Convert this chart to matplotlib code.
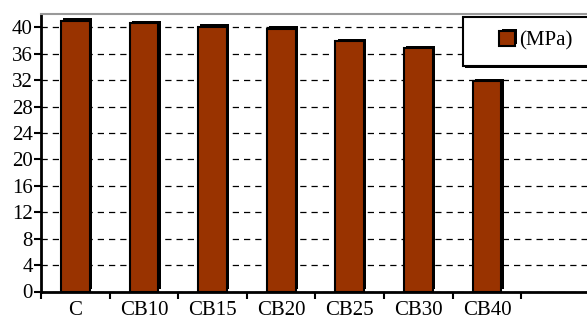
"""
Compressive strength of the concrete mixes as a bar chart with drop shadows.
"""

import matplotlib
matplotlib.use("Agg")
import matplotlib.pyplot as plt
import matplotlib.patheffects as pe
from matplotlib.patches import Rectangle

mixes = ["C", "CB10", "CB15", "CB20", "CB25", "CB30", "CB40"]
strength = [41.0, 40.6, 40.1, 39.8, 37.9, 36.8, 31.9]
y_ticks = [0, 4, 8, 12, 16, 20, 24, 28, 32, 36, 40]
legend_label = "(MPa)"

BAR_COLOR = "#993300"

plt.rcParams["font.family"] = ["Liberation Serif", "DejaVu Serif"]

fig = plt.figure(figsize=(5.87, 3.22), dpi=100)
ax = fig.add_axes([41 / 587, 30.5 / 322, 549 / 587, 277.5 / 322])

shadow = [pe.SimplePatchShadow(offset=(1.6, 1.6), shadow_rgbFace="black", alpha=1.0),
          pe.Normal()]
positions = list(range(len(mixes)))
bars = ax.bar(positions, strength, width=0.42, color=BAR_COLOR,
              edgecolor="black", linewidth=1.5, zorder=3, label=legend_label)
for bar in bars:
    bar.set_path_effects(shadow)

# one empty slot on the right, like the original sheet
ax.set_xlim(-0.5, len(mixes) + 0.5)
ax.set_ylim(0, 42)

ax.set_yticks(y_ticks)
ax.set_yticklabels([str(v) for v in y_ticks], fontsize=15)
ax.set_xticks(positions)
ax.set_xticklabels(mixes, fontsize=15)
ax.set_xticks([p - 0.5 for p in range(len(mixes) + 1)], minor=True)
ax.tick_params(axis="x", which="major", length=0, pad=6.5)
ax.tick_params(axis="x", which="minor", length=5, width=1.5, direction="out")
ax.tick_params(axis="y", length=5, width=1.5, direction="out", pad=1)

ax.yaxis.grid(True, linestyle=(0, (5, 4)), color="black", linewidth=0.9, zorder=0)
ax.set_axisbelow(True)

for side in ("left", "bottom"):
    ax.spines[side].set_linewidth(2)
    ax.spines[side].set_color("black")
ax.spines["top"].set_color("#999999")
ax.spines["top"].set_linewidth(1.5)
ax.spines["right"].set_visible(False)

# legend box, drawn as a framed patch with a shadow; it runs past the right edge
box = Rectangle((463 / 587, 1 - 66 / 322), 140 / 587, 49 / 322,
                transform=fig.transFigure, facecolor="white", edgecolor="black",
                linewidth=1.5, zorder=5)
box.set_path_effects([pe.SimplePatchShadow(offset=(1.2, -1.2), shadow_rgbFace="black",
                                           alpha=1.0), pe.Normal()])
fig.patches.append(box)
leg = fig.legend(handles=[bars[0]], labels=[legend_label], loc="center left",
                 bbox_to_anchor=(489 / 587, 1 - 41 / 322), frameon=False,
                 fontsize=15, handlelength=0.75, handleheight=0.75,
                 handletextpad=0.2, borderpad=0)
leg.set_zorder(6)

fig.savefig("out.png", dpi=100)
